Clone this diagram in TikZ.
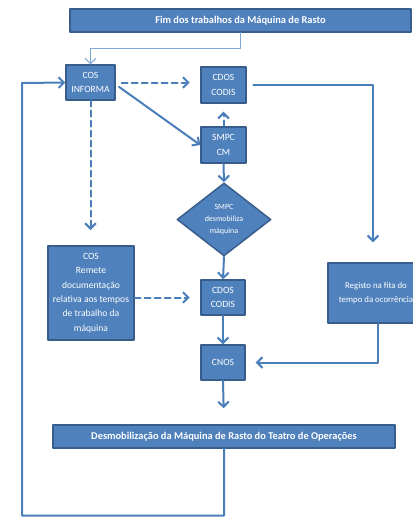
\documentclass[tikz,border=0pt]{standalone}
\usepackage{fontspec}
\setmainfont{Carlito}
\usepackage{tikz}
\usetikzlibrary{arrows.meta}
\usetikzlibrary{positioning}
\usetikzlibrary{shapes.geometric}
\definecolor{boxblue}{HTML}{4F81BD}
\definecolor{edgeblue}{HTML}{385D8A}
\definecolor{lineblue}{HTML}{4A7EBB}
\definecolor{paleblue}{HTML}{7EA6D6}
\begin{document}
\begin{tikzpicture}[line cap=round,line join=round, x=0.75pt,y=-0.75pt,
	caixa/.style={draw=edgeblue, line width=1.1pt, fill=boxblue, text=white, align=center, inner sep=1pt,
		font=\fontsize{7.2}{10.8}\selectfont},
	faixa/.style={caixa, font=\fontsize{7.8}{9}\selectfont\bfseries, minimum height=17.25pt, minimum width=256pt},
	losango/.style={caixa, diamond, inner sep=0pt, minimum width=70.5pt, minimum height=54.75pt,
		font=\fontsize{6}{9}\selectfont},
	seta/.style={draw=lineblue, line width=1.5pt, -{Straight Barb[length=4pt,width=8pt]}},
	tracejado/.style={seta, dash pattern=on 4.5pt off 3pt}]
\useasboundingbox (0,0) rectangle (413,518);
% caixas
\node[faixa] (fim) at (240.5,20.5) {Fim dos trabalhos da Máquina de Rasto};
\node[caixa, minimum width=36.75pt, minimum height=26.25pt] (cosinf) at (90.5,82.5) {COS\\INFORMA};
\node[caixa, minimum width=33.75pt, minimum height=27pt] (cdosA) at (223.5,85) {CDOS\\CODIS};
\node[caixa, minimum width=33.75pt, minimum height=27pt] (smpc) at (223.5,145) {SMPC\\CM};
\node[losango] (desmob) at (224,219.5) {SMPC\\desmobiliza\\máquina};
\node[caixa, minimum width=33pt, minimum height=26.25pt] (cdosB) at (223,297.5) {CDOS\\CODIS};
\node[caixa, minimum width=64.5pt, minimum height=70.5pt] (cosrem) at (91,293)
	{COS\\Remete\\documentação\\relativa aos tempos\\de trabalho da\\máquina};
\node[caixa, minimum width=72pt, minimum height=45pt, font=\fontsize{6.6}{10.8}\selectfont] (registo) at (376,293)
	{Registo na fita do\\tempo  da ocorrência};
\node[caixa, minimum width=33pt, minimum height=26.25pt] (cnos) at (223,362.5) {CNOS};
\node[faixa, minimum width=256.5pt] (teatro) at (224,436.5) {Desmobilização da Máquina de Rasto do Teatro de Operações};
\coordinate (fimtrac) at (90.5,230);
% ligacoes
\draw[seta, draw=paleblue, line width=0.8pt] (fim.south) -- ++(0,16) -| (cosinf.north);
\draw[tracejado, shorten <=4.5pt, shorten >=8pt] (cosinf.east) -- (cdosA.west |- cosinf.east);
\draw[seta, shorten <=3pt] ([yshift=-1.5pt]cosinf.east) -- (smpc.west);
\draw[tracejado, shorten >=6pt] (smpc.north) -- (cdosA.south);
\draw[tracejado] (cosinf.south) -- (fimtrac);
\draw[seta] (smpc.south) -- (desmob.north);
\draw[seta] (desmob.south) -- (cdosB.north);
\draw[tracejado, shorten >=8pt] (cosrem.east |- cdosB.west) -- (cdosB.west);
\draw[seta] (cdosB.south) -- (cnos.north);
\draw[seta, shorten <=5pt, shorten >=15pt] (cdosA.east) -| ([xshift=-2.25pt]registo.north);
\draw[seta, shorten >=7.5pt] ([xshift=1.5pt]registo.south) |- (cnos.east);
\draw[seta, shorten >=12pt] (cnos.south) -- (teatro.north);
\draw[seta] (teatro.south) -- ++(0,67) -| (22,83) -- (cosinf.west);
\end{tikzpicture}
\end{document}
